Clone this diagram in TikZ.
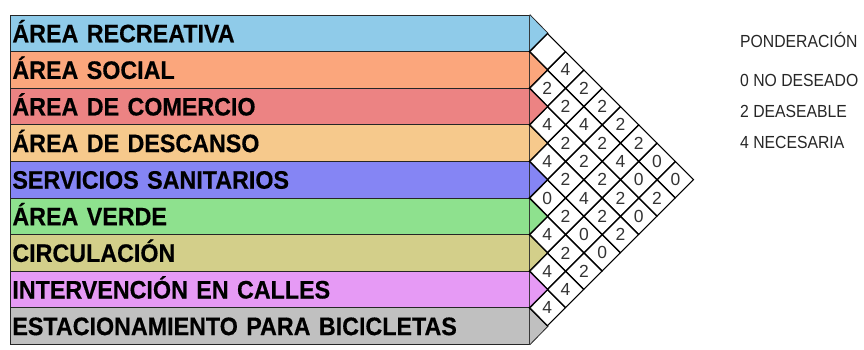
\documentclass[tikz,border=0pt]{standalone}
\usepackage{fontspec}
\setmainfont{Liberation Sans}
\newfontfamily\rowfont[FakeStretch=0.92,FakeBold=0.4]{Liberation Sans}
\newfontfamily\legfont[FakeStretch=0.9]{Liberation Sans}
\usepackage{tikz}
\usetikzlibrary{shapes.geometric}

\definecolor{cRecreativa}{HTML}{8FCBE9}
\definecolor{cSocial}{HTML}{FBA67C}
\definecolor{cComercio}{HTML}{EC8383}
\definecolor{cDescanso}{HTML}{F6C98C}
\definecolor{cSanitarios}{HTML}{8585F4}
\definecolor{cVerde}{HTML}{8EE18E}
\definecolor{cCirculacion}{HTML}{D3CF8A}
\definecolor{cCalles}{HTML}{E69AF5}
\definecolor{cBicis}{HTML}{C0C0C0}
\definecolor{numgray}{HTML}{333333}

\begin{document}
\begin{tikzpicture}[x=1pt,y=-1pt,
      rowbox/.style={rectangle,draw=black!85,line width=0.8pt,anchor=west,
        minimum width=519pt,minimum height=36.6pt,text width=515pt,align=left,
        inner xsep=2pt,inner ysep=0pt,text height=18pt,text depth=0pt,
        font=\rowfont\bfseries\fontsize{25.3}{25.3}\selectfont},
      tri/.style={draw=black!85,line width=0.8pt,line join=miter},
      cell/.style={diamond,draw=black,line width=1.1pt,minimum size=36.6pt,
        inner sep=0pt,text=numgray,font=\fontsize{17.5}{17.5}\selectfont},
      legtext/.style={anchor=west,inner sep=0pt,text=black!85,
        font=\legfont\fontsize{17.5}{17.5}\selectfont}]
    \useasboundingbox (0,0) rectangle (864,350);
    % rows with the spaces
    \foreach \t/\c [count=\i] in {ÁREA RECREATIVA/cRecreativa,ÁREA SOCIAL/cSocial,
        ÁREA DE COMERCIO/cComercio,ÁREA DE DESCANSO/cDescanso,
        SERVICIOS SANITARIOS/cSanitarios,ÁREA VERDE/cVerde,CIRCULACIÓN/cCirculacion,
        INTERVENCIÓN EN CALLES/cCalles,ESTACIONAMIENTO PARA BICICLETAS/cBicis} {
      \node[rowbox,fill=\c] (r\i) at (10,{15+(\i-0.5)*36.6}) {\t};
      \filldraw[tri,fill=\c] (r\i.north east) -- ([xshift=18.3pt]r\i.east) -- (r\i.south east);
    }
    % relation matrix
    \foreach \a/\b/\w in {1/2/{},1/3/4,1/4/2,1/5/2,1/6/2,1/7/2,1/8/0,1/9/0,
        2/3/2,2/4/2,2/5/4,2/6/2,2/7/4,2/8/0,2/9/2,
        3/4/4,3/5/2,3/6/2,3/7/2,3/8/2,3/9/0,
        4/5/4,4/6/2,4/7/4,4/8/2,4/9/2,
        5/6/0,5/7/2,5/8/0,5/9/0,
        6/7/4,6/8/2,6/9/2,
        7/8/4,7/9/4,
        8/9/4} {
      \pgfmathsetmacro{\cx}{529+(\b-\a)*18.3}
      \pgfmathsetmacro{\cy}{15+(\a+\b-1)*18.3}
      \node[cell] (c\a\b) at (\cx,\cy) {\w};
    }
    % legend
    \node[legtext] (leg) at (740,40) {PONDERACIÓN};
    \node[legtext] (leg0) at (740,80.5) {0 NO DESEADO};
    \node[legtext] (leg2) at (740,111.5) {2 DEASEABLE};
    \node[legtext] (leg4) at (740,142.5) {4 NECESARIA};
  \end{tikzpicture}
\end{document}
